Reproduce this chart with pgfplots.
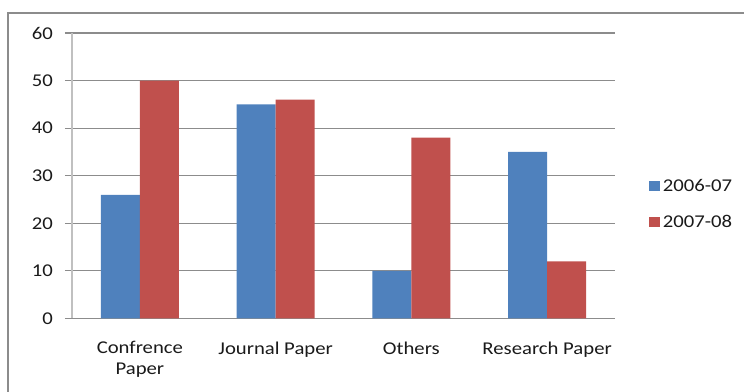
\documentclass[border=0pt]{standalone}
\usepackage{pgfplots}
\pgfplotsset{compat=1.18}
\usepackage{fontspec}
\setmainfont{Carlito}[FakeStretch=1.15]
\definecolor{serA}{HTML}{4F81BD}
\definecolor{serB}{HTML}{C0504D}
\definecolor{gridc}{HTML}{8C8C8C}
\definecolor{txt}{HTML}{1A1A1A}
\begin{document}
\begin{tikzpicture}
\begin{axis}[
  at={(0pt,0pt)}, anchor=origin,
  scale only axis, width=407.25pt, height=214.1pt,
  ybar=0pt, bar width=29.25pt,
  xmin=0, xmax=4, ymin=0, ymax=60,
  xtick={0.5,1.5,2.5,3.5},
  xticklabels={{Confrence\\Paper},{Journal Paper},{Others},{Research Paper}},
  minor xtick={0,1,2,3,4},
  ytick={0,10,...,60},
  axis x line*=bottom, axis y line*=left,
  axis line style={gridc, line width=0.8pt},
  y axis line style={draw=gridc!55, line width=0.8pt},
  tick align=outside,
  major tick length=5.25pt, minor tick length=5.25pt,
  xtick style={draw=none},
  minor tick style={gridc, line width=0.8pt},
  ytick style={gridc, line width=0.8pt},
  ymajorgrids, grid style={gridc, line width=0.8pt},
  tick label style={font=\fontsize{13.5}{15.5}\selectfont, text=txt},
  xticklabel style={align=center, yshift=-8.5pt},
  yticklabel style={xshift=-5.5pt},
  /pgf/number format/assume math mode=true,
  legend style={at={(1.062,0.50)}, anchor=north west, draw=none, fill=none,
    font=\fontsize{13.5}{15.5}\selectfont, text=txt, row sep=11pt,
    inner sep=0pt, nodes={inner sep=2.5pt}},
  legend cell align=left,
  legend image code/.code={\fill[#1,draw=none] (0pt,-3.75pt) rectangle (8pt,4pt);},
]
\addplot[fill=serA, draw=none] coordinates {(0.5,26) (1.5,45) (2.5,10) (3.5,35)};
\addplot[fill=serB, draw=none] coordinates {(0.5,50) (1.5,46) (2.5,38) (3.5,12)};
\legend{2006-07,2007-08}
\end{axis}
% outer chart frame; the page spans 558pt x 294pt with the plot origin at (54pt,55.125pt)
\draw[gridc,line width=1.1pt] (-48pt,-55.125pt) -- (-48pt,229.125pt) -- (504pt,229.125pt);
\pgfresetboundingbox
\path[use as bounding box] (-54pt,-55.125pt) rectangle (504pt,238.875pt);
\end{tikzpicture}
\end{document}
